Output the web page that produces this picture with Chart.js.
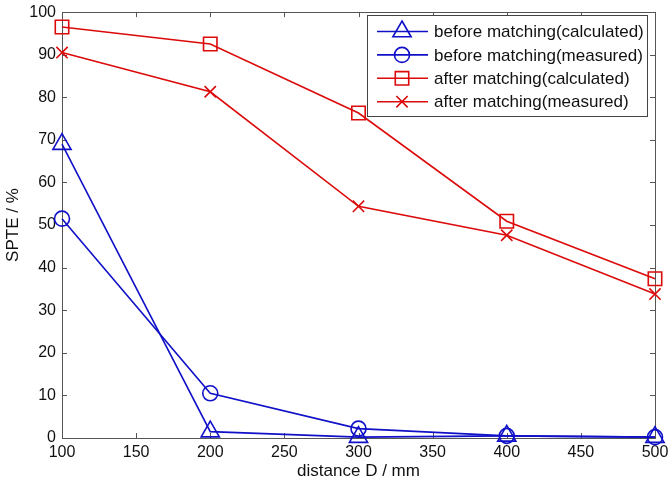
<!DOCTYPE html>
<html>
<head>
<meta charset="utf-8">
<script src="https://cdn.jsdelivr.net/npm/chart.js@4/dist/chart.umd.min.js"></script>
<style>
  html, body { margin: 0; padding: 0; background: #fff; }
</style>
</head>
<body>
<canvas id="chart" width="670" height="485"></canvas>
<script>
// ---------------- DATA ----------------
const distances = [100, 200, 300, 400, 500];
const beforeCalculated = [69, 1.5, 0.2, 0.5, 0.2];
const beforeMeasured = [51.5, 10.5, 2.2, 0.5, 0.2];
const afterCalculated = [96.5, 92.5, 76.3, 50.9, 37.4];
const afterMeasured = [90.5, 81.3, 54.4, 47.6, 33.8];
const seriesNames = [
    "before matching(calculated)",
    "before matching(measured)",
    "after matching(calculated)",
    "after matching(measured)"
];
const xTicks = [100, 150, 200, 250, 300, 350, 400, 450, 500];
const yTicks = [0, 10, 20, 30, 40, 50, 60, 70, 80, 90, 100];

const BLUE = "#1010c8";
const RED = "#dc0a0a";
const FONT = "'Liberation Sans', Arial, sans-serif";

const toPoints = (vals) => distances.map((d, i) => ({ x: d, y: vals[i] }));

function makeSet(label, vals, color, style, radius) {
    return {
        label: label,
        data: toPoints(vals),
        borderColor: color,
        backgroundColor: color,
        borderWidth: 1.6,
        pointStyle: style,
        pointRadius: radius,
        pointHoverRadius: radius,
        pointBorderColor: color,
        pointBackgroundColor: "rgba(0,0,0,0)",
        pointBorderWidth: 1.6,
        tension: 0,
        clip: false
    };
}

// --------------- AXES FRAME (MATLAB style box + inward ticks) ---------------
const framePlugin = {
    id: "frame",
    beforeDatasetsDraw(chart) {
        const { ctx, chartArea: a, scales } = chart;
        ctx.save();
        ctx.strokeStyle = "#555";
        ctx.lineWidth = 1;
        ctx.strokeRect(Math.round(a.left) + 0.5, Math.round(a.top) + 0.5,
            Math.round(a.right - a.left), Math.round(a.bottom - a.top));
        const len = 5;
        ctx.beginPath();
        xTicks.forEach(v => {
            const px = Math.round(scales.x.getPixelForValue(v)) + 0.5;
            ctx.moveTo(px, a.bottom); ctx.lineTo(px, a.bottom - len);
            ctx.moveTo(px, a.top); ctx.lineTo(px, a.top + len);
        });
        yTicks.forEach(v => {
            const py = Math.round(scales.y.getPixelForValue(v)) + 0.5;
            ctx.moveTo(a.left, py); ctx.lineTo(a.left + len, py);
            ctx.moveTo(a.right, py); ctx.lineTo(a.right - len, py);
        });
        ctx.stroke();
        ctx.restore();
    }
};

// --------------- LEGEND (line + marker, boxed) ---------------
const legendPlugin = {
    id: "boxLegend",
    afterDraw(chart) {
        const { ctx } = chart;
        const left = 367, top = 15, w = 280, h = 101;
        ctx.save();
        ctx.fillStyle = "#fff";
        ctx.fillRect(left, top, w, h);
        ctx.strokeStyle = "#444";
        ctx.lineWidth = 1;
        ctx.strokeRect(left + 0.5, top + 0.5, w, h);
        ctx.font = "17px " + FONT;
        ctx.textBaseline = "middle";
        chart.data.datasets.forEach((ds, i) => {
            const y = top + 16.5 + i * 23.4;
            ctx.strokeStyle = ds.borderColor;
            ctx.lineWidth = 1.6;
            ctx.beginPath();
            ctx.moveTo(377, y); ctx.lineTo(428, y);
            ctx.stroke();
            ctx.fillStyle = "rgba(0,0,0,0)";
            Chart.helpers.drawPoint(ctx, {
                pointStyle: ds.pointStyle,
                radius: ds.pointRadius,
                rotation: 0,
                borderWidth: 1.6
            }, 402, y);
            ctx.fillStyle = "#111";
            ctx.fillText(ds.label, 434, y + 1);
        });
        ctx.restore();
    }
};

new Chart(document.getElementById("chart"), {
    type: "line",
    data: {
        datasets: [
            makeSet(seriesNames[0], beforeCalculated, BLUE, "triangle", 10.5),
            makeSet(seriesNames[1], beforeMeasured, BLUE, "circle", 7.5),
            makeSet(seriesNames[2], afterCalculated, RED, "rect", 9.5),
            makeSet(seriesNames[3], afterMeasured, RED, "crossRot", 8)
        ]
    },
    options: {
        responsive: false,
        animation: false,
        layout: { padding: { top: 7, right: 15, left: 0, bottom: 0 } },
        plugins: {
            legend: { display: false },
            tooltip: { enabled: false }
        },
        scales: {
            x: {
                type: "linear",
                min: 100,
                max: 500,
                afterBuildTicks: (s) => { s.ticks = xTicks.map(v => ({ value: v })); },
                grid: { display: false, drawTicks: false },
                border: { display: false },
                ticks: {
                    color: "#111",
                    font: { family: FONT, size: 16 },
                    padding: 5,
                    maxRotation: 0
                },
                title: {
                    display: true,
                    text: "distance D / mm",
                    color: "#111",
                    font: { family: FONT, size: 17 },
                    padding: { top: 0, bottom: 3 }
                },
                afterFit: (s) => {
                    s.height = 47;
                    s.paddingLeft = 0;
                    s.paddingRight = 0;
                }
            },
            y: {
                min: 0,
                max: 100,
                afterBuildTicks: (s) => { s.ticks = yTicks.map(v => ({ value: v })); },
                grid: { display: false, drawTicks: false },
                border: { display: false },
                ticks: {
                    color: "#111",
                    font: { family: FONT, size: 16 },
                    padding: 6
                },
                title: {
                    display: true,
                    text: "SPTE / %",
                    color: "#111",
                    font: { family: FONT, size: 17 },
                    padding: { top: 3, bottom: 0 }
                },
                afterFit: (s) => {
                    s.width = 62;
                    s.paddingTop = 0;
                    s.paddingBottom = 0;
                }
            }
        }
    },
    plugins: [framePlugin, legendPlugin]
});
</script>
</body>
</html>
